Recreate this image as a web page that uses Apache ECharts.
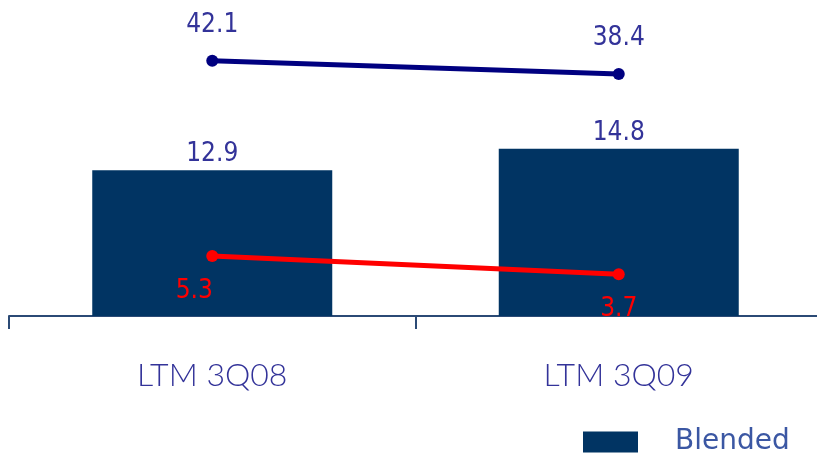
<!DOCTYPE html>
<html>
<head>
<meta charset="utf-8">
<script src="https://cdn.jsdelivr.net/npm/echarts@6/dist/echarts.min.js"></script>
<style>
  html, body { margin: 0; padding: 0; background: #ffffff; overflow: hidden; }
  /* the axis runs a few pixels past the right edge of the window */
  #chart { width: 822px; height: 453px; }
</style>
</head>
<body>
<div id="chart"></div>
<script>
// Periods on the category axis
const categories = ['LTM 3Q08', 'LTM 3Q09'];
// Bar series (left axis)
const blended = [12.9, 14.8];
// Upper line (right axis)
const upperLine = [42.1, 38.4];
// Lower line (shares the left axis with the bars)
const lowerLine = [5.3, 3.7];

const narrow = '"Liberation Sans Narrow", "DejaVu Sans Condensed", "Liberation Sans", sans-serif';

const chart = echarts.init(document.getElementById('chart'), null, { renderer: 'canvas' });

chart.setOption({
  backgroundColor: '#ffffff',
  animation: false,
  grid: { left: 9, top: 33.5, right: 0, height: 282.5, containLabel: false },
  legend: {
    data: ['Blended'],
    left: 583,
    top: 428,
    padding: 0,
    itemWidth: 55,
    itemHeight: 21,
    icon: 'rect',
    textStyle: {
      color: '#3b57a3',
      fontSize: 28,
      fontFamily: '"DejaVu Sans", sans-serif',
      padding: [0, 0, 0, 32]
    }
  },
  xAxis: {
    type: 'category',
    data: categories,
    axisLine: { show: true, lineStyle: { color: '#2b4a75', width: 2 } },
    axisTick: { show: true, length: 13, lineStyle: { color: '#2b4a75', width: 2 } },
    axisLabel: {
      color: '#333399',
      fontSize: 32,
      fontWeight: 300,
      fontFamily: 'Lato, "DejaVu Sans Condensed", sans-serif',
      margin: 43.5
    }
  },
  yAxis: [
    { type: 'value', min: 0, max: 25, show: false },
    { type: 'value', min: -28.9, max: 49.7, show: false }
  ],
  series: [
    {
      name: 'Blended',
      type: 'bar',
      data: blended,
      barWidth: 240,
      yAxisIndex: 0,
      itemStyle: { color: '#013463' },
      label: {
        show: true,
        position: 'top',
        distance: 3,
        color: '#333399',
        fontSize: 26,
        fontFamily: narrow
      },
      z: 1
    },
    {
      name: 'upper',
      type: 'line',
      data: upperLine,
      yAxisIndex: 1,
      symbol: 'circle',
      symbolSize: 12,
      lineStyle: { color: '#000080', width: 5 },
      itemStyle: { color: '#000080' },
      label: {
        show: true,
        position: 'top',
        distance: 17,
        color: '#333399',
        fontSize: 26,
        fontFamily: narrow
      },
      z: 3
    },
    {
      name: 'lower',
      type: 'line',
      data: [
        { value: lowerLine[0], label: { offset: [-18, 0] } },
        { value: lowerLine[1] }
      ],
      yAxisIndex: 0,
      symbol: 'circle',
      symbolSize: 12,
      lineStyle: { color: '#ff0000', width: 5 },
      itemStyle: { color: '#ff0000' },
      label: {
        show: true,
        position: 'bottom',
        distance: 16,
        color: '#ff0000',
        fontSize: 26,
        fontFamily: narrow
      },
      z: 3
    }
  ]
});
</script>
</body>
</html>
